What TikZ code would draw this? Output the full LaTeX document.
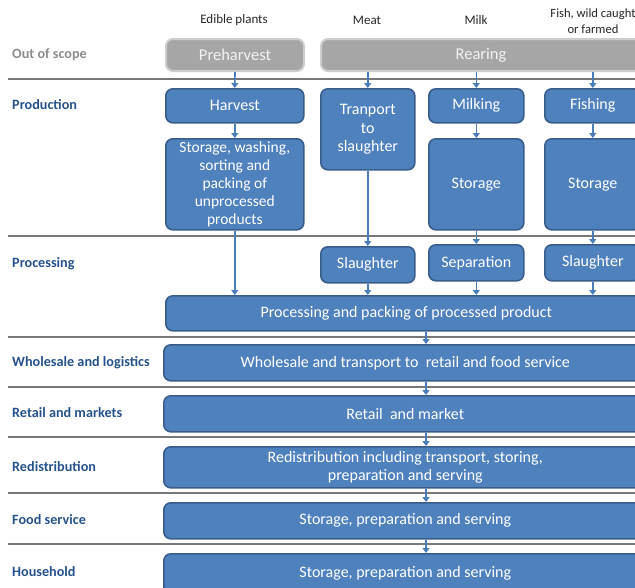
\documentclass[tikz,border=0pt]{standalone}
\usepackage{fontspec}
\setmainfont{Carlito}
\usetikzlibrary{arrows.meta}
\definecolor{bfill}{RGB}{79,129,189}
\definecolor{bdraw}{RGB}{56,93,138}
\definecolor{gfill}{RGB}{166,166,166}
\definecolor{gdraw}{RGB}{205,205,205}
\definecolor{gtext}{RGB}{242,242,242}
\definecolor{lab}{RGB}{38,82,140}
\definecolor{oos}{RGB}{140,140,140}
\definecolor{sepc}{RGB}{120,120,120}
\definecolor{arrc}{RGB}{74,126,187}
\begin{document}
\begin{tikzpicture}[x=1pt,y=-1pt,
  box/.style={draw=bdraw, fill=bfill, line width=1.6pt, rounded corners=7pt, text=white,
    font=\fontsize{16}{18.3}\selectfont, align=center, inner sep=0pt, anchor=north west},
  gbox/.style={box, draw=gdraw, fill=gfill, text=gtext, line width=2pt, font=\fontsize{16.5}{19}\selectfont},
  rowlab/.style={anchor=west, text=lab, font=\fontsize{14.2}{16}\selectfont\bfseries, inner sep=0pt},
  collab/.style={text=black!85, font=\fontsize{13}{16}\selectfont, align=center, inner sep=0pt},
  sepline/.style={draw=sepc, line width=1.2pt},
  arr/.style={draw=arrc, line width=1.6pt, -{Triangle[width=7pt,length=5pt]}}]
\useasboundingbox (0,0) rectangle (635,587);
\clip (0,0) rectangle (635,587);

% column headers
\node[collab] (hplants) at (234,20) {Edible plants};
\node[collab] (hmeat) at (367,20) {Meat};
\node[collab] (hmilk) at (476,20) {Milk};
\node[collab, font=\fontsize{12.6}{16}\selectfont] (hfish) at (593,21) {Fish, wild caught\\or farmed};

% row labels
\node[rowlab, text=oos] (loos) at (12,55) {Out of scope};
\node[rowlab] (lprod) at (12,105) {Production};
\node[rowlab] (lproc) at (12,264) {Processing};
\node[rowlab] (lwhole) at (12,363) {Wholesale and logistics};
\node[rowlab] (lretail) at (12,413) {Retail and markets};
\node[rowlab] (lredis) at (12,467) {Redistribution};
\node[rowlab] (lfood) at (12,520) {Food service};
\node[rowlab] (lhouse) at (12,572) {Household};

% separator lines
\foreach \yy in {79,236,337,387,437,493,544}
  \draw[sepline] (8,\yy) -- (640,\yy);

% out of scope
\node[gbox, minimum width=138pt, minimum height=32pt] (pre) at (165,38) {Preharvest};
\node[gbox, minimum width=340pt, minimum height=32pt] (rear) at (320,38) {\hspace*{-20pt}Rearing};

% production
\node[box, minimum width=138pt, minimum height=34pt] (harv) at (165,88) {Harvest};
\node[box, minimum width=94pt, minimum height=81pt] (trans) at (320,88) {Tranport\\to\\slaughter};
\node[box, minimum width=95pt, minimum height=34pt] (milk) at (428,88) {Milking};
\node[box, minimum width=96pt, minimum height=34pt] (fish) at (544,88) {Fishing};
\node[box, minimum width=138pt, minimum height=91pt, font=\fontsize{15.5}{18}\selectfont] (stw) at (165,138) {Storage, washing,\\sorting and\\packing of\\unprocessed\\products};
\node[box, minimum width=95pt, minimum height=91pt] (mstor) at (428,138) {Storage};
\node[box, minimum width=96pt, minimum height=91pt] (fstor) at (544,138) {Storage};

% processing
\node[box, minimum width=94pt, minimum height=36pt] (mslau) at (320,246) {Slaughter};
\node[box, minimum width=95pt, minimum height=36pt] (msep) at (428,244) {Separation};
\node[box, minimum width=96pt, minimum height=36pt] (fslau) at (544,244) {Slaughter};
\node[box, minimum width=481pt, minimum height=35pt] (proc) at (165,295) {Processing and packing of processed product};

% lower chain
\node[box, minimum width=483pt, minimum height=36pt] (whole) at (163,344) {Wholesale and transport to~ retail and food service};
\node[box, minimum width=483pt, minimum height=36pt] (retail) at (163,395) {Retail~ and market};
\node[box, minimum width=483pt, minimum height=41pt] (redis) at (163,446) {Redistribution including transport, storing,\\preparation and serving};
\node[box, minimum width=483pt, minimum height=36pt] (fserv) at (163,502) {Storage, preparation and serving};
\node[box, minimum width=483pt, minimum height=40pt] (house) at (163,553) {Storage, preparation and serving};

% arrows
\draw[arr] (pre.south) -- (harv.north);
\draw[arr] (rear.south -| trans.north) -- (trans.north);
\draw[arr] (rear.south -| milk.north) -- (milk.north);
\draw[arr] (rear.south -| fish.north) -- (fish.north);
\draw[arr] (harv.south) -- (stw.north);
\draw[arr] (stw.south) -- (stw.south |- proc.north);
\draw[arr] (trans.south) -- (mslau.north);
\draw[arr] (mslau.south) -- (mslau.south |- proc.north);
\draw[arr] (milk.south) -- (mstor.north);
\draw[arr] (mstor.south) -- (msep.north);
\draw[arr] (msep.south) -- (msep.south |- proc.north);
\draw[arr] (fish.south) -- (fstor.north);
\draw[arr] (fstor.south) -- (fslau.north);
\draw[arr] (fslau.south) -- (fslau.south |- proc.north);

\coordinate (cx) at (426,0);
\draw[arr] (proc.south -| cx) -- (whole.north -| cx);
\draw[arr] (whole.south -| cx) -- (retail.north -| cx);
\draw[arr] (retail.south -| cx) -- (redis.north -| cx);
\draw[arr] (redis.south -| cx) -- (fserv.north -| cx);
\draw[arr] (fserv.south -| cx) -- (house.north -| cx);
\end{tikzpicture}
\end{document}
